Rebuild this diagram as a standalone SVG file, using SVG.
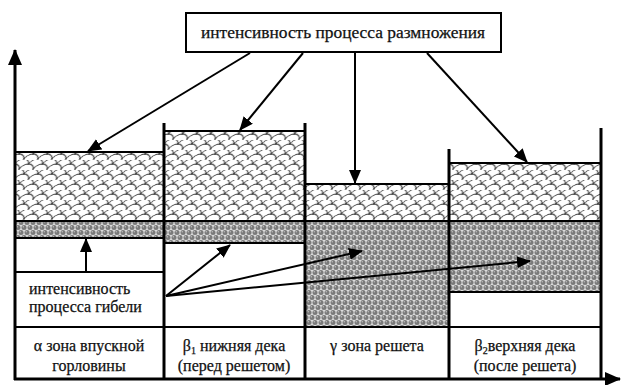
<svg xmlns="http://www.w3.org/2000/svg" width="621" height="385" viewBox="0 0 621 385">
<style>
.wall{stroke:#000;stroke-width:3;fill:none}
.ln{stroke:#000;stroke-width:2;fill:none}
.arr{stroke:#000;stroke-width:2;fill:none;marker-end:url(#ah)}
.t{font-family:"Liberation Serif","DejaVu Serif","Times New Roman",serif;font-size:16px;fill:#111;stroke:#111;stroke-width:0.25}
.c{text-anchor:middle}
.scale{fill:url(#scales)}
.dots{fill:url(#dots)}
</style>
<defs>
<pattern id="scales" width="14" height="10" patternUnits="userSpaceOnUse" patternTransform="skewX(-25)">
<rect width="14" height="10" fill="#fff"/>
<path d="M0,10 A7,6 0 0 1 14,10 M-7,5 A7,6 0 0 1 7,5 M7,5 A7,6 0 0 1 21,5 M0,0 A7,6 0 0 1 14,0" stroke="#444" stroke-width="1" fill="none"/>
</pattern>
<pattern id="dots" width="6" height="10" patternUnits="userSpaceOnUse">
<rect width="6" height="10" fill="#dcdcdc"/>
<circle cx="3" cy="2.5" r="2.5" fill="#7a7a7a"/>
<circle cx="0" cy="7.5" r="2.5" fill="#7a7a7a"/>
<circle cx="6" cy="7.5" r="2.5" fill="#7a7a7a"/>
<circle cx="2.3" cy="1.8" r="0.8" fill="#bbb"/>
<circle cx="5.3" cy="6.8" r="0.8" fill="#bbb"/>
</pattern>
<marker id="ah" markerUnits="userSpaceOnUse" markerWidth="14" markerHeight="12" refX="13" refY="6" orient="auto">
<path d="M0,0 L14,6 L0,12 Z" fill="#000"/>
</marker>
<marker id="axh" markerUnits="userSpaceOnUse" markerWidth="16" markerHeight="14" refX="15" refY="7" orient="auto">
<path d="M0,0 L16,7 L0,14 Z" fill="#000"/>
</marker>
</defs>

<g id="col-alpha">
<rect class="scale" x="15" y="152" width="149" height="69"/>
<rect class="dots" x="15" y="221" width="149" height="17"/>
<line class="ln" x1="15" y1="152" x2="164" y2="152"/>
<line class="ln" x1="15" y1="238" x2="164" y2="238"/>
<text class="t c" x="89" y="351">α зона впускной</text>
<text class="t c" x="89" y="371">горловины</text>
</g>

<g id="box-gibel">
<line class="ln" x1="15" y1="272" x2="164" y2="272"/>
<text class="t" x="29" y="294">интенсивность</text>
<text class="t" x="29" y="312">процесса гибели</text>
</g>

<g id="col-beta1">
<rect class="scale" x="164" y="131" width="141" height="90"/>
<rect class="dots" x="164" y="221" width="141" height="22"/>
<line class="ln" x1="164" y1="131" x2="305" y2="131"/>
<line class="ln" x1="164" y1="243" x2="305" y2="243"/>
<text class="t c" x="234" y="351">β<tspan font-size="10" dy="3">1</tspan><tspan dy="-3"> нижняя дека</tspan></text>
<text class="t c" x="234" y="371">(перед решетом)</text>
</g>

<g id="col-gamma">
<rect class="scale" x="305" y="184" width="144" height="37"/>
<rect class="dots" x="305" y="221" width="144" height="106"/>
<line class="ln" x1="305" y1="184" x2="449" y2="184"/>
<text class="t c" x="377" y="351">γ зона решета</text>
</g>

<g id="col-beta2">
<rect class="scale" x="449" y="163" width="152" height="58"/>
<rect class="dots" x="449" y="221" width="152" height="71"/>
<line class="ln" x1="449" y1="163" x2="601" y2="163"/>
<line class="ln" x1="449" y1="292" x2="601" y2="292"/>
<text class="t c" x="525" y="351">β<tspan font-size="10" dy="3">2</tspan><tspan dy="-3">верхняя дека</tspan></text>
<text class="t c" x="525" y="371">(после решета)</text>
</g>

<g id="grid">
<line class="ln" x1="15" y1="221" x2="601" y2="221"/>
<line class="ln" x1="15" y1="327" x2="601" y2="327"/>
<line class="wall" x1="164" y1="123" x2="164" y2="379"/>
<line class="wall" x1="305" y1="123" x2="305" y2="379"/>
<line class="wall" x1="449" y1="149" x2="449" y2="379"/>
<line class="wall" x1="601" y1="128" x2="601" y2="379"/>
</g>

<g id="axes">
<line class="wall" x1="15" y1="380" x2="15" y2="50" marker-end="url(#axh)"/>
<line class="wall" x1="14" y1="379" x2="620" y2="379" marker-end="url(#axh)"/>
</g>

<g id="box-razm">
<rect x="186" y="13" width="315" height="39" fill="#fff" stroke="#000" stroke-width="2"/>
<text class="t c" x="343" y="38" style="font-size:16.5px" textLength="284" lengthAdjust="spacingAndGlyphs">интенсивность процесса размножения</text>
</g>

<g id="connectors">
<line class="arr" x1="250" y1="53" x2="88" y2="151"/>
<line class="arr" x1="303" y1="53" x2="240" y2="130"/>
<line class="arr" x1="355" y1="53" x2="355" y2="183"/>
<line class="arr" x1="427" y1="53" x2="527" y2="162"/>
<line class="arr" x1="86" y1="272" x2="86" y2="239"/>
<line class="arr" x1="166" y1="296" x2="230" y2="245"/>
<line class="arr" x1="166" y1="296" x2="362" y2="251"/>
<line class="arr" x1="166" y1="296" x2="530" y2="261"/>
</g>
</svg>
